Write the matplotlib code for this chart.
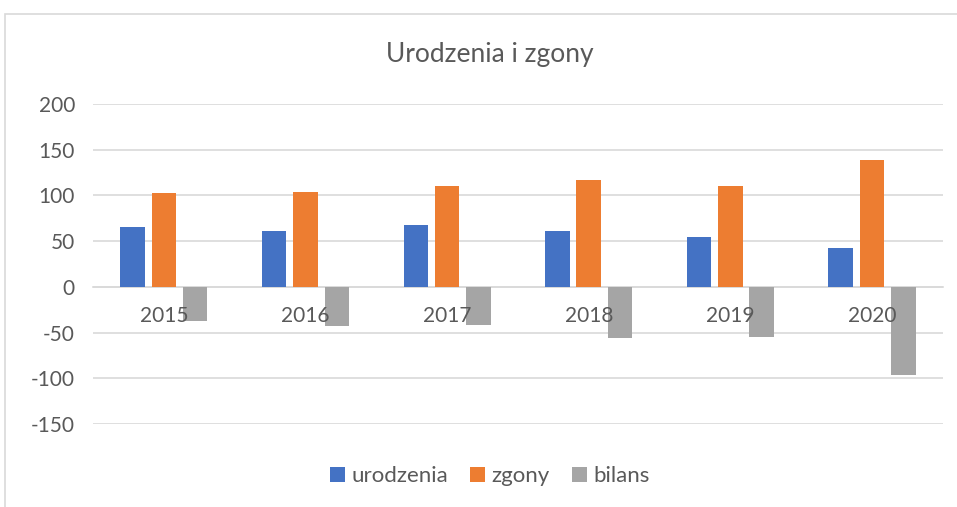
import numpy as np
import matplotlib.pyplot as plt
from matplotlib.patches import Rectangle

years = ['2015', '2016', '2017', '2018', '2019', '2020']
urodzenia = [66, 61, 68, 61, 54, 43]
zgony = [103, 104, 110, 117, 110, 139]
bilans = [-37, -43, -42, -56, -55, -96]

plt.rcParams['font.family'] = ['Lato', 'DejaVu Sans']
plt.rcParams['axes.unicode_minus'] = False
text_col = '#595959'
grid_col = '#d9d9d9'

fig = plt.figure(figsize=(9.57, 5.07), dpi=100)
ax = fig.add_axes([0.0972, 0.1637, 0.8880, 0.6312])

x = np.arange(len(years))
w = 0.173
step = 0.221
ax.bar(x - step, urodzenia, w, color='#4472C4', label='urodzenia', zorder=1)
ax.bar(x, zgony, w, color='#ED7D31', label='zgony', zorder=1)
ax.bar(x + step, bilans, w, color='#A5A5A5', label='bilans', zorder=1)

ax.set_xlim(-0.5, len(years) - 0.5)
ax.set_ylim(-150, 200)
yticks = list(range(-150, 201, 50))
ax.set_yticks(yticks)
# gridlines behind the bars, tick labels above them
for t in yticks:
    ax.axhline(t, color=grid_col, lw=1.2, zorder=0)
ax.set_axisbelow(False)

ax.set_xticks(x)
ax.set_xticklabels(years)
ax.spines['bottom'].set_position(('data', 0))
ax.spines['bottom'].set_color(grid_col)
ax.spines['bottom'].set_linewidth(1.2)
ax.spines['bottom'].set_zorder(0)
for s in ['top', 'right', 'left']:
    ax.spines[s].set_visible(False)
ax.tick_params(axis='x', length=0, pad=14, labelsize=15, labelcolor=text_col)
ax.tick_params(axis='y', length=0, pad=13, labelsize=15, labelcolor=text_col)

fig.text(0.512, 0.892, 'Urodzenia i zgony', ha='center', va='center',
         fontsize=19, color=text_col)

fig.legend(loc='center', bbox_to_anchor=(0.512, 0.061), ncol=3, frameon=False,
           fontsize=16, labelcolor=text_col, handlelength=0.65, handleheight=0.65,
           handletextpad=0.3, columnspacing=1.0)

fig.patches.append(Rectangle((5 / 957, -0.05), 1.2, 1 - 14 / 507 + 0.05,
                             transform=fig.transFigure, fill=False,
                             edgecolor=grid_col, lw=1.2))

fig.savefig('out.png', dpi=100)
